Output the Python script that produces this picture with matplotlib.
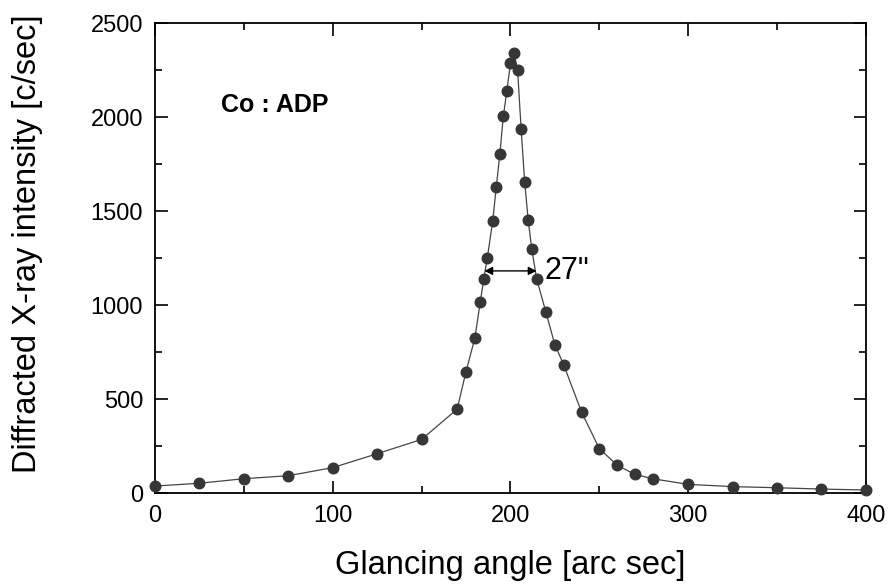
import matplotlib
matplotlib.use("Agg")
import matplotlib.pyplot as plt
from matplotlib.ticker import MultipleLocator

plt.rcParams['font.family'] = ['Liberation Sans', 'DejaVu Sans']

angle = [0, 25, 50, 75, 100, 125, 150, 170, 175, 180, 183, 185, 187, 190, 192, 194,
         196, 198, 200, 202, 204, 206, 208, 210, 212, 214.7, 220, 225, 230, 240, 250,
         260, 270, 280, 300, 325, 350, 375, 400]
intensity = [39, 54, 78, 94, 137, 211, 287, 448, 648, 827, 1018, 1142, 1254, 1447, 1627, 1802,
             2008, 2142, 2287, 2340, 2252, 1937, 1655, 1452, 1298, 1142, 962, 790, 683, 432, 238,
             150, 101, 78, 48, 36, 30, 23, 18]

fwhm_left, fwhm_right, fwhm_level = 185.3, 214.7, 1183
fwhm_label = '27"'

fig = plt.figure(figsize=(8.89, 5.85), dpi=100)
ax = fig.add_axes([0.1744, 0.1566, 0.7996, 0.8037])

ax.plot(angle, intensity, '-', color='#444444', lw=0.9, zorder=2)
ax.plot(angle, intensity, 'o', color='#363636', ms=7.6, mec='#363636', zorder=3, clip_on=False)

ax.annotate('', xy=(fwhm_left, fwhm_level), xytext=(fwhm_right, fwhm_level),
            arrowprops=dict(arrowstyle='<|-|>', color='black', lw=1.0,
                            shrinkA=0, shrinkB=0, mutation_scale=12))
ax.text(fwhm_right + 4.5, fwhm_level, fwhm_label, fontsize=22, va='center', ha='left')

ax.text(0.0924, 0.826, 'Co : ADP', transform=ax.transAxes, fontsize=18, fontweight='bold',
        va='center', ha='left')

ax.set_xlim(0, 400)
ax.set_ylim(0, 2500)
ax.xaxis.set_major_locator(MultipleLocator(100))
ax.xaxis.set_minor_locator(MultipleLocator(50))
ax.yaxis.set_major_locator(MultipleLocator(500))
ax.yaxis.set_minor_locator(MultipleLocator(250))
ax.tick_params(which='both', direction='in', top=True, right=True, width=1.2, labelsize=17)
ax.tick_params(which='major', length=9, pad=8.5)
ax.tick_params(which='minor', length=5)
for s in ax.spines.values():
    s.set_linewidth(1.3)

ax.set_xlabel('Glancing angle [arc sec]', fontsize=23.5)
ax.set_ylabel('Diffracted X-ray intensity [c/sec]', fontsize=23.5)
ax.xaxis.set_label_coords(0.5, -0.12)
ax.yaxis.set_label_coords(-0.157, 0.532)

fig.savefig('out.png', dpi=100)
